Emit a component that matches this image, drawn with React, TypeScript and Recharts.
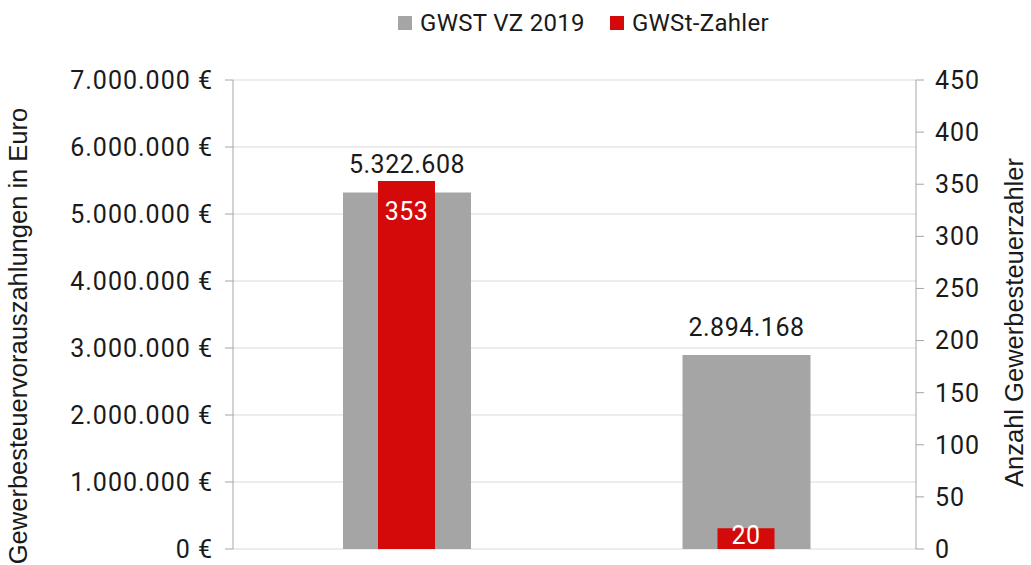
import { ComposedChart, Bar, XAxis, YAxis, CartesianGrid, Legend, LabelList } from "recharts";

const categories = ["A", "B"];
const vorauszahlung = [5322608, 2894168];
const zahler = [353, 20];
const leftTicks = [0, 1000000, 2000000, 3000000, 4000000, 5000000, 6000000, 7000000];
const rightTicks = [0, 50, 100, 150, 200, 250, 300, 350, 400, 450];

const data = categories.map((c, i) => ({
  name: c,
  vz: vorauszahlung[i],
  anzahl: zahler[i],
}));

const font = "Roboto, 'Noto Sans', sans-serif";
const titleFont = "'Liberation Sans', Arial, sans-serif";
const textColor = "#1a1a1a";
const grey = "#a5a5a5";
const red = "#d40a0a";

const dots = (n: number) => String(n).replace(/\B(?=(\d{3})+(?!\d))/g, ".");

const legendItems = [
  { label: "GWST VZ 2019", color: grey },
  { label: "GWSt-Zahler", color: red },
];

function LegendBox() {
  return (
    <div style={{ display: "flex", alignItems: "center", fontFamily: font, fontSize: 24, letterSpacing: 0.3, color: textColor, lineHeight: "30px" }}>
      {legendItems.map((it, i) => (
        <div key={it.label} style={{ display: "flex", alignItems: "center", marginLeft: i ? 25 : 0 }}>
          <span style={{ display: "inline-block", width: 14, height: 14, background: it.color, marginRight: 8 }} />
          <span>{it.label}</span>
        </div>
      ))}
    </div>
  );
}

function AxisTitle(props: any) {
  const { viewBox, value, dx, dy } = props;
  const x = viewBox.x + dx;
  const y = viewBox.y + viewBox.height / 2 + dy;
  return (
    <text x={x} y={y} transform={`rotate(-90, ${x}, ${y})`} textAnchor="middle" fill={textColor} fontSize={25.5} fontFamily={titleFont}>
      {value}
    </text>
  );
}

function CountLabel(props: any) {
  const { x, y, width, height, value } = props;
  const cy = Math.min(y + 30, y + height - 14);
  return (
    <text x={x + width / 2} y={cy} textAnchor="middle" dominantBaseline="central" fill="#fff" fontSize={25} fontFamily={font} letterSpacing={0.5}>
      {value}
    </text>
  );
}

export default function App() {
  return (
    <div style={{ position: "absolute", left: 0, top: 0, width: 1031, height: 565, background: "#fff", fontFamily: font }}>
      <ComposedChart width={1031} height={565} data={data} margin={{ top: 80, right: 0, bottom: 16, left: 0 }}>
        <CartesianGrid vertical={false} stroke="#d9d9d9" yAxisId="left" xAxisId="a" />
        <XAxis xAxisId="a" dataKey="name" hide padding={{ left: 4, right: 0 }} />
        <XAxis xAxisId="b" dataKey="name" hide padding={{ left: 4, right: 0 }} />
        <YAxis
          yAxisId="left"
          width={233}
          domain={[0, 7000000]}
          ticks={leftTicks}
          interval={0}
          tickFormatter={(v: number) => dots(v) + " €"}
          tick={{ fill: textColor, fontSize: 25, fontFamily: font, letterSpacing: 1 }}
          axisLine={{ stroke: "#a6a6a6" }}
          tickLine={{ stroke: "#a6a6a6" }}
          tickSize={8}
          tickMargin={12}
          label={{
            value: "Gewerbesteuervorauszahlungen in Euro",
            content: (p: any) => <AxisTitle {...p} value="Gewerbesteuervorauszahlungen in Euro" dx={27} dy={21.5} />,
          }}
        />
        <YAxis
          yAxisId="right"
          orientation="right"
          width={115}
          domain={[0, 450]}
          ticks={rightTicks}
          interval={0}
          tick={{ fill: textColor, fontSize: 25, fontFamily: font, letterSpacing: 1 }}
          axisLine={{ stroke: "#a6a6a6" }}
          tickLine={{ stroke: "#a6a6a6" }}
          tickSize={8}
          tickMargin={11}
          label={{
            value: "Anzahl Gewerbesteuerzahler",
            content: (p: any) => <AxisTitle {...p} value="Anzahl Gewerbesteuerzahler" dx={107} dy={8} />,
          }}
        />
        <Legend
          verticalAlign="top"
          content={() => <LegendBox />}
          wrapperStyle={{ top: 8, left: 398, width: "auto", height: 0 }}
        />
        <Bar
          xAxisId="a"
          yAxisId="left"
          dataKey="vz"
          name="GWST VZ 2019"
          fill={grey}
          barSize={128}
          isAnimationActive={false}
        >
          <LabelList
            dataKey="vz"
            position="top"
            offset={19}
            formatter={(v: number) => dots(v)}
            style={{ fill: textColor, fontSize: 25, fontFamily: font, letterSpacing: 0.5 }}
          />
        </Bar>
        <Bar
          xAxisId="b"
          yAxisId="right"
          dataKey="anzahl"
          name="GWSt-Zahler"
          fill={red}
          barSize={57}
          isAnimationActive={false}
        >
          <LabelList dataKey="anzahl" content={(p: any) => <CountLabel {...p} />} />
        </Bar>
      </ComposedChart>
    </div>
  );
}
